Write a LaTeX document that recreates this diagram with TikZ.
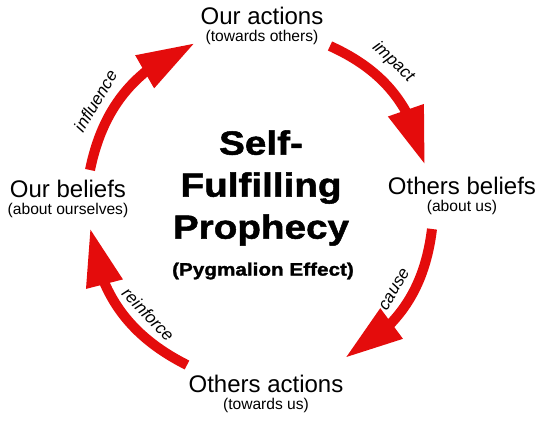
\documentclass[tikz,border=0pt]{standalone}
\usepackage{fontspec}
\setmainfont{Liberation Sans}
\newfontfamily\heavyfont[FakeStretch=1.15,FakeBold=1.5]{Liberation Sans Bold}
\usetikzlibrary{arrows.meta,bending}
\definecolor{cycred}{RGB}{228,12,12}
\newcommand\subline[1]{{\fontsize{7.8}{9}\selectfont #1}}

\begin{document}
\begin{tikzpicture}[
  x=0.5pt, y=-0.5pt,
  stage/.style={align=center, inner sep=0pt, font=\fontsize{12}{8.8}\selectfont},
  cyc/.style={draw=cycred, line width=5pt, -{Triangle[length=29pt,width=17.5pt]}},
  verb/.style={font=\fontsize{8.5}{10}\selectfont\itshape, sloped, above, inner sep=4pt}
]
\useasboundingbox[fill=white] (0,0) rectangle (548,422);

% Title
\node[align=center, inner sep=0pt, font=\heavyfont\fontsize{16.8}{21}\selectfont] (title) at (261,188) {Self-\\Fulfilling\\Prophecy};
\node[inner sep=0pt, font=\heavyfont\fontsize{9}{10}\selectfont] (effect) at (263,271) {(Pygmalion Effect)};

% Stages of the cycle
\node[stage] (act) at (262,26) {Our actions\\\subline{(towards others)}};
\node[stage] (obel) at (462,196) {Others beliefs\\\subline{(about us)}};
\node[stage] (oact) at (266,394) {Others actions\\\subline{(towards us)}};
\node[stage] (bel) at (68,199) {Our beliefs\\\subline{(about ourselves)}};

% Arrow ends
\coordinate (bel-out) at (90,170);
\coordinate (act-in) at (195,43);
\coordinate (act-out) at (330,46);
\coordinate (obel-in) at (425,165);
\coordinate (obel-out) at (432,229);
\coordinate (oact-in) at (345,358);
\coordinate (oact-out) at (187,365);
\coordinate (bel-in) at (90,228);

% Arrows
\draw[cyc] (bel-out) to[bend left=28] node[verb, pos=0.36] {influence} (act-in);
\draw[cyc] (act-out) to[bend left=27] node[verb, pos=0.36] {impact} (obel-in);
\draw[cyc] (obel-out) to[bend left=27] node[verb, pos=0.45] {cause} (oact-in);
\draw[cyc] (oact-out) to[bend left=28] node[verb, pos=0.36] {reinforce} (bel-in);
\end{tikzpicture}
\end{document}
